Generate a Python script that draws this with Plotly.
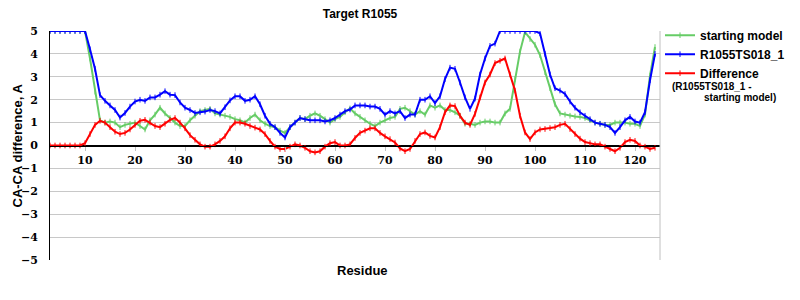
import plotly.graph_objects as go

residues = list(range(3, 125))

starting_model = [5, 5, 5, 5, 5, 5, 5, 5,
    3.8, 2.35, 1.1, 1.0, 1.05, 1.0, 0.8, 0.9, 0.95, 1.0,
    0.85, 0.7, 1.1, 1.35, 1.65, 1.4, 1.2, 1.0, 0.85, 0.85,
    1.1, 1.3, 1.5, 1.55, 1.6, 1.4, 1.35, 1.3, 1.25, 1.15,
    1.1, 1.0, 1.2, 1.35, 1.1, 0.95, 0.85, 0.8, 0.65, 0.55,
    0.8, 1.0, 1.2, 1.15, 1.3, 1.4, 1.3, 1.15, 1.0, 1.15,
    1.25, 1.45, 1.62, 1.4, 1.25, 1.1, 0.95, 0.85, 1.0, 1.1,
    1.2, 1.25, 1.6, 1.65, 1.5, 1.35, 1.5, 1.35, 1.75, 1.65,
    1.75, 1.55, 1.55, 1.45, 1.3, 0.95, 0.95, 0.9, 1.0, 1.05,
    1.05, 1.0, 1.0, 1.4, 1.6, 2.9, 4.1, 4.95, 4.65, 4.4,
    3.95, 3.2, 2.5, 1.8, 1.4, 1.35, 1.3, 1.27, 1.25, 1.2,
    1.1, 1.0, 0.95, 0.9, 0.9, 1.0, 1.0, 1.0, 0.95, 0.95,
    0.85, 1.35, 3.05, 4.3]

model_ts018 = [5, 5, 5, 5, 5, 5, 5, 5,
    4.2, 3.35, 2.2, 1.95, 1.75, 1.55, 1.22, 1.42, 1.7, 1.92,
    2.0, 1.95, 2.1, 2.1, 2.22, 2.37, 2.22, 2.2, 1.88, 1.65,
    1.55, 1.42, 1.45, 1.48, 1.55, 1.5, 1.4, 1.67, 1.97, 2.15,
    2.15, 1.95, 2.0, 2.15, 1.8, 1.3, 0.95, 0.8, 0.55, 0.35,
    0.8, 1.0, 1.2, 1.15, 1.1, 1.1, 1.1, 1.05, 1.1, 1.2,
    1.35, 1.5, 1.57, 1.75, 1.75, 1.75, 1.7, 1.7, 1.6, 1.35,
    1.5, 1.4, 1.5, 1.2, 1.35, 1.35, 2.0, 2.0, 2.15, 1.85,
    2.15, 2.9, 3.4, 3.35, 2.75, 2.1, 1.6, 2.05, 3.1, 3.8,
    4.35, 4.45, 5, 5, 5, 5, 5, 5, 5, 5,
    4.9, 4.0, 3.1, 2.5, 2.4, 2.25, 1.92, 1.65, 1.45, 1.3,
    1.15, 1.0, 0.95, 0.9, 0.8, 0.55, 0.8, 1.1, 1.25, 1.05,
    1.0, 1.45, 2.85, 4.0]

difference = [0, 0, 0, 0, 0, 0, 0,
    0.1, 0.5, 0.9, 1.08, 1.0, 0.8, 0.6, 0.5, 0.55, 0.7, 0.9,
    1.08, 1.12, 1.0, 0.85, 0.8, 0.95, 1.12, 1.2, 1.0, 0.75,
    0.45, 0.25, 0.05, -0.05, -0.05, 0.05, 0.2, 0.4, 0.75, 1.0,
    1.0, 0.95, 0.85, 0.78, 0.7, 0.5, 0.2, -0.05, -0.15, -0.15,
    -0.05, 0.05, 0.0, -0.1, -0.25, -0.3, -0.25, -0.05, 0.1, 0.15,
    0.0, 0.0, 0.05, 0.33, 0.55, 0.65, 0.75, 0.75, 0.55, 0.4,
    0.28, 0.13, -0.13, -0.25, -0.15, 0.2, 0.5, 0.57, 0.42, 0.35,
    0.8, 1.45, 1.75, 1.72, 1.3, 1.0, 0.9, 1.38, 2.1, 2.75,
    3.1, 3.6, 3.7, 3.8, 3.1, 2.4, 1.3, 0.57, 0.28, 0.57,
    0.7, 0.72, 0.76, 0.8, 0.9, 0.95, 0.72, 0.5, 0.3, 0.15,
    0.1, 0.05, 0.05, -0.05, -0.15, -0.25, -0.1, 0.15, 0.25, 0.2,
    0.0, -0.05, -0.15, -0.1]

x_ticks = [10, 20, 30, 40, 50, 60, 70, 80, 90, 100, 110, 120]
y_ticks = [5, 4, 3, 2, 1, 0, -1, -2, -3, -4, -5]

series = [
    ("starting model", starting_model, "#66CC66"),
    ("R1055TS018_1", model_ts018, "#0000FF"),
    ("Difference", difference, "#FF0000"),
]

fig = go.Figure()
for name, vals, col in series:
    fig.add_trace(go.Scatter(
        x=residues, y=vals, name=name, mode="lines+markers",
        line=dict(color=col, width=2),
        marker=dict(symbol="line-ns", size=4, line=dict(color=col, width=1), color=col),
    ))

sans = "Liberation Sans, Arial, sans-serif"
serif = "DejaVu Serif, serif"

fig.update_layout(
    width=800, height=300,
    margin=dict(l=50, r=140, t=31, b=40, autoexpand=False),
    paper_bgcolor="white", plot_bgcolor="white",
    title=dict(text="Target R1055", x=(360 - 50) / 610, xref="paper", y=1 - 14 / 300,
               yanchor="middle", xanchor="center",
               font=dict(family=sans, size=12, color="black", weight="bold")),
    xaxis=dict(range=[3, 125], tickvals=x_ticks, showgrid=False,
               anchor="free", position=0.5, showline=True, linecolor="black",
               linewidth=1, ticks="outside", ticklen=4, tickcolor="#c0c0c0",
               tickfont=dict(family=serif, size=11, color="black", weight="bold"),
               zeroline=False, automargin=False),
    yaxis=dict(range=[-5, 5], tickvals=y_ticks, showgrid=True, gridcolor="#c8c8c8",
               gridwidth=1, showline=True, linecolor="black", linewidth=1,
               zeroline=True, zerolinecolor="black", zerolinewidth=1,
               ticks="outside", ticklen=9, tickcolor="rgba(0,0,0,0)",
               tickfont=dict(family=serif, size=11, color="black", weight="bold"),
               automargin=False),
    legend=dict(x=1.0, y=1.045, xanchor="left", yanchor="top",
                font=dict(family=sans, size=12, color="black", weight="bold"),
                itemwidth=30, bgcolor="rgba(0,0,0,0)", tracegroupgap=0),
    showlegend=True,
)

fig.add_shape(type="line", xref="paper", yref="paper", x0=1, x1=1, y0=0, y1=1,
              line=dict(color="#c0c0c0", width=1))

fig.add_annotation(text="CA-CA difference, A", xref="paper", yref="paper",
                   x=(17 - 50) / 610, y=0.5, textangle=-90, showarrow=False,
                   xanchor="center", yanchor="middle",
                   font=dict(family=sans, size=13, color="black", weight="bold"))
fig.add_annotation(text="Residue", xref="paper", yref="paper",
                   x=(362 - 50) / 610, y=(260 - 270) / 229, showarrow=False,
                   xanchor="center", yanchor="middle",
                   font=dict(family=sans, size=13, color="black", weight="bold"))
fig.add_annotation(text="(R1055TS018_1 -", xref="paper", yref="paper",
                   x=(670 - 50) / 610, y=(260 - 86) / 229, xanchor="left", yanchor="middle",
                   showarrow=False,
                   font=dict(family=sans, size=10, color="black", weight="bold"))
fig.add_annotation(text="starting model)", xref="paper", yref="paper",
                   x=(702 - 50) / 610, y=(260 - 97.5) / 229, xanchor="left", yanchor="middle",
                   showarrow=False,
                   font=dict(family=sans, size=10, color="black", weight="bold"))

fig.write_html("out.html")
